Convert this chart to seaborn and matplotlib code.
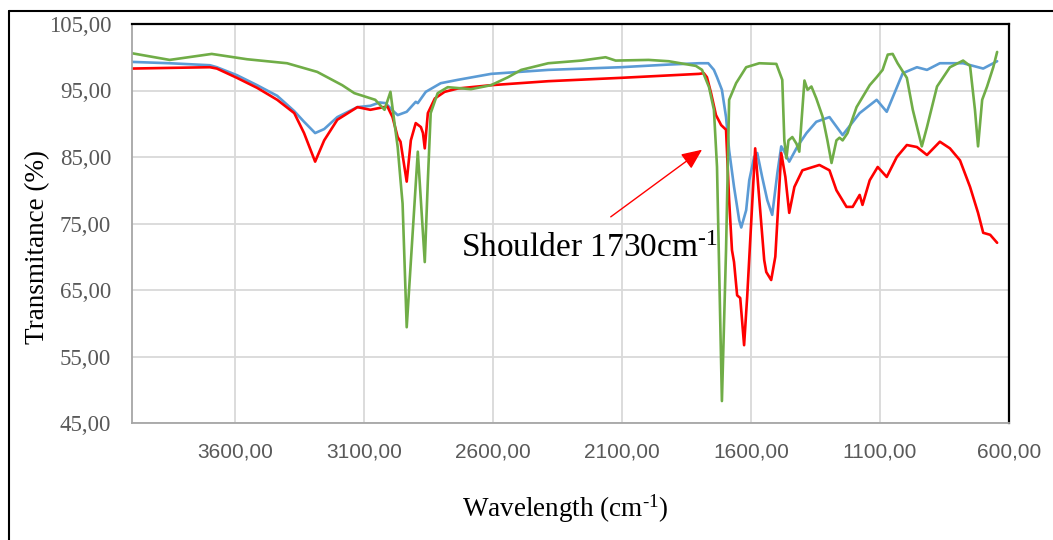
import matplotlib
matplotlib.use("Agg")
import matplotlib.pyplot as plt
import matplotlib.ticker as mticker
from matplotlib.lines import Line2D
import pandas as pd
import seaborn as sns


# FTIR spectra (wavenumber in cm-1, transmittance in %)
blue_wn = [4000, 3854, 3698, 3671, 3593, 3515, 3437, 3371, 3333, 3290, 3255, 3204, 3126, 3076,
           3040, 3017, 2990, 2970, 2935, 2900, 2892, 2861, 2803, 2737, 2608, 2386, 2106, 1919,
           1802, 1766, 1744, 1732, 1713, 1697, 1685, 1666, 1646, 1638, 1619, 1607, 1588, 1576,
           1557, 1537, 1518, 1498, 1483, 1471, 1452, 1420, 1385, 1347, 1296, 1245, 1179, 1113,
           1074, 1012, 957, 918, 868, 778, 700, 646]
blue_t = [99.3, 99.1, 98.8, 98.5, 97.3, 95.8, 94.2, 91.9, 90.3, 88.6, 89.2, 91.0, 92.5, 92.7,
          93.2, 93.1, 92.0, 91.3, 91.8, 93.3, 93.1, 94.8, 96.1, 96.6, 97.5, 98.1, 98.5, 98.9,
          99.1, 99.1, 98.1, 97.0, 95.1, 91.0, 86.0, 80.5, 75.5, 74.4, 77.0, 81.5, 85.0, 85.6,
          82.0, 78.5, 76.3, 82.6, 86.6, 85.8, 84.3, 86.6, 88.6, 90.3, 91.0, 88.3, 91.6, 93.6,
          91.8, 97.6, 98.5, 98.1, 99.1, 99.1, 98.3, 99.4]

red_wn = [4000, 3854, 3698, 3671, 3593, 3515, 3437, 3371, 3333, 3290, 3255, 3204, 3126, 3076,
          3010, 2990, 2970, 2959, 2935, 2919, 2900, 2880, 2872, 2865, 2853, 2826, 2788, 2737,
          2608, 2386, 2106, 1802, 1783, 1771, 1755, 1736, 1716, 1697, 1685, 1674, 1666, 1654,
          1642, 1627, 1615, 1584, 1549, 1541, 1522, 1506, 1483, 1467, 1452, 1432, 1401, 1335,
          1296, 1269, 1230, 1206, 1179, 1168, 1140, 1109, 1074, 1035, 996, 957, 918, 868, 829,
          790, 751, 720, 700, 673, 646]
red_t = [98.3, 98.4, 98.5, 98.3, 96.9, 95.4, 93.6, 91.6, 88.6, 84.3, 87.5, 90.6, 92.5, 92.1,
         92.6, 91.0, 88.0, 87.3, 81.3, 87.5, 90.1, 89.5, 88.6, 86.3, 91.6, 93.8, 94.8, 95.3,
         95.8, 96.4, 96.9, 97.5, 97.6, 97.0, 94.6, 91.3, 89.8, 89.1, 78.5, 71.0, 69.2, 64.2,
         63.8, 56.7, 64.0, 86.3, 69.5, 67.7, 66.5, 70.0, 85.6, 82.0, 76.6, 80.5, 83.0, 83.8,
         83.0, 80.0, 77.5, 77.5, 79.3, 77.8, 81.5, 83.5, 82.0, 85.0, 86.8, 86.5, 85.3, 87.3,
         86.3, 84.5, 80.5, 76.6, 73.6, 73.3, 72.1]

green_wn = [4000, 3854, 3691, 3554, 3399, 3282, 3185, 3138, 3057, 3021, 2998, 2982, 2970, 2959,
            2951, 2935, 2892, 2865, 2853, 2842, 2815, 2776, 2686, 2608, 2542, 2491, 2386, 2258,
            2164, 2125, 1997, 1919, 1814, 1790, 1763, 1744, 1732, 1713, 1697, 1685, 1658, 1619,
            1568, 1502, 1479, 1471, 1463, 1455, 1440, 1424, 1413, 1393, 1381, 1366, 1347, 1323,
            1304, 1288, 1269, 1257, 1245, 1226, 1191, 1140, 1113, 1090, 1070, 1051, 1032, 996,
            973, 938, 918, 879, 829, 778, 751, 732, 720, 704, 685, 661, 646]
green_t = [100.6, 99.6, 100.5, 99.7, 99.1, 97.8, 95.8, 94.6, 93.6, 92.1, 94.8, 90.0, 86.5, 81.5,
           78.0, 59.4, 85.8, 69.2, 81.5, 91.6, 94.6, 95.5, 95.2, 95.8, 97.0, 98.1, 99.1, 99.5,
           100.0, 99.5, 99.6, 99.4, 98.7, 98.1, 95.5, 92.1, 83.5, 48.3, 71.0, 93.6, 96.1, 98.5,
           99.1, 99.0, 96.6, 87.5, 84.8, 87.5, 88.0, 87.0, 85.8, 96.5, 95.1, 95.6, 93.8, 91.1,
           87.5, 84.1, 87.5, 87.9, 87.5, 88.6, 92.5, 95.8, 97.0, 98.1, 100.4, 100.5, 99.1, 96.9,
           92.1, 86.6, 89.5, 95.6, 98.5, 99.5, 98.7, 92.1, 86.6, 93.6, 95.6, 98.5, 100.8]

x_ticks = [3600, 3100, 2600, 2100, 1600, 1100, 600]
y_ticks = [45, 55, 65, 75, 85, 95, 105]

SERIES_COLORS = {"blue": "#5B9BD5", "red": "#FF0000", "green": "#70AD47"}
SERIF = "Liberation Serif"
SANS = "Liberation Sans"
TICK_GRAY = "#595959"


def build_frame() -> pd.DataFrame:
    parts = []
    for name, wn, t in [("blue", blue_wn, blue_t), ("red", red_wn, red_t), ("green", green_wn, green_t)]:
        parts.append(pd.DataFrame({"wn": wn, "T": t, "sample": name}))
    return pd.concat(parts, ignore_index=True)


def comma_fmt(v, _pos):
    return f"{v:.2f}".replace(".", ",")


def main() -> None:
    sns.set_theme(style="whitegrid")
    plt.rcParams["font.family"] = [SERIF, "DejaVu Serif"]
    plt.rcParams["mathtext.fontset"] = "custom"
    plt.rcParams["mathtext.rm"] = SERIF
    plt.rcParams["mathtext.it"] = SERIF
    plt.rcParams["mathtext.bf"] = SERIF

    df = build_frame()

    fig = plt.figure(figsize=(10.53, 5.40), dpi=100)
    ax = fig.add_axes([132 / 1053, 117 / 540, 877 / 1053, 399 / 540])

    sns.lineplot(
        data=df, x="wn", y="T", hue="sample", hue_order=["blue", "red", "green"],
        palette=SERIES_COLORS, linewidth=1.9, estimator=None, legend=False, ax=ax,
    )

    ax.set_xlim(4000, 600)
    ax.set_ylim(45, 105)
    ax.set_xticks(x_ticks)
    ax.set_yticks(y_ticks)
    ax.xaxis.set_major_formatter(mticker.FuncFormatter(comma_fmt))
    ax.yaxis.set_major_formatter(mticker.FuncFormatter(comma_fmt))
    ax.grid(True, color="#d9d9d9", linewidth=1.3)
    ax.tick_params(axis="x", length=0, pad=14, labelsize=15, labelcolor=TICK_GRAY)
    ax.tick_params(axis="y", length=0, pad=15, labelsize=16.5, labelcolor=TICK_GRAY)
    for lab in ax.get_xticklabels():
        lab.set_fontfamily(SANS)

    for side in ["top", "right"]:
        ax.spines[side].set_color("black")
        ax.spines[side].set_linewidth(1.6)
    for side in ["left", "bottom"]:
        ax.spines[side].set_color("#a6a6a6")
        ax.spines[side].set_linewidth(1.3)

    ax.set_xlabel(r"Wavelength (cm$^{\text{-1}}$)", fontsize=19.5, color="black", va="center")
    ax.xaxis.set_label_coords(0.494, -0.215)
    ax.set_ylabel("Transmitance (%)", fontsize=19.5, color="black", va="center")
    ax.yaxis.set_label_coords(-0.108, 0.44)

    # shoulder annotation
    ax.text(2724, 70.0, r"Shoulder 1730cm$^{\text{-1}}$", fontsize=24, color="black",
            ha="left", va="baseline")
    ax.annotate("", xy=(1790, 86.1), xytext=(2144, 76.0),
                arrowprops=dict(arrowstyle="-|>,head_length=0.5,head_width=0.22",
                                color="red", lw=1.0, mutation_scale=25,
                                shrinkA=0, shrinkB=0))

    # outer chart frame (cropped at right and bottom)
    fx = 9 / 1053
    fy = 1 - 11 / 540
    fig.add_artist(Line2D([fx, fx], [0, fy], color="black", lw=1.5, transform=fig.transFigure))
    fig.add_artist(Line2D([fx, 1], [fy, fy], color="black", lw=1.5, transform=fig.transFigure))

    fig.savefig("out.png", dpi=100)
    plt.close(fig)


if __name__ == "__main__":
    main()
